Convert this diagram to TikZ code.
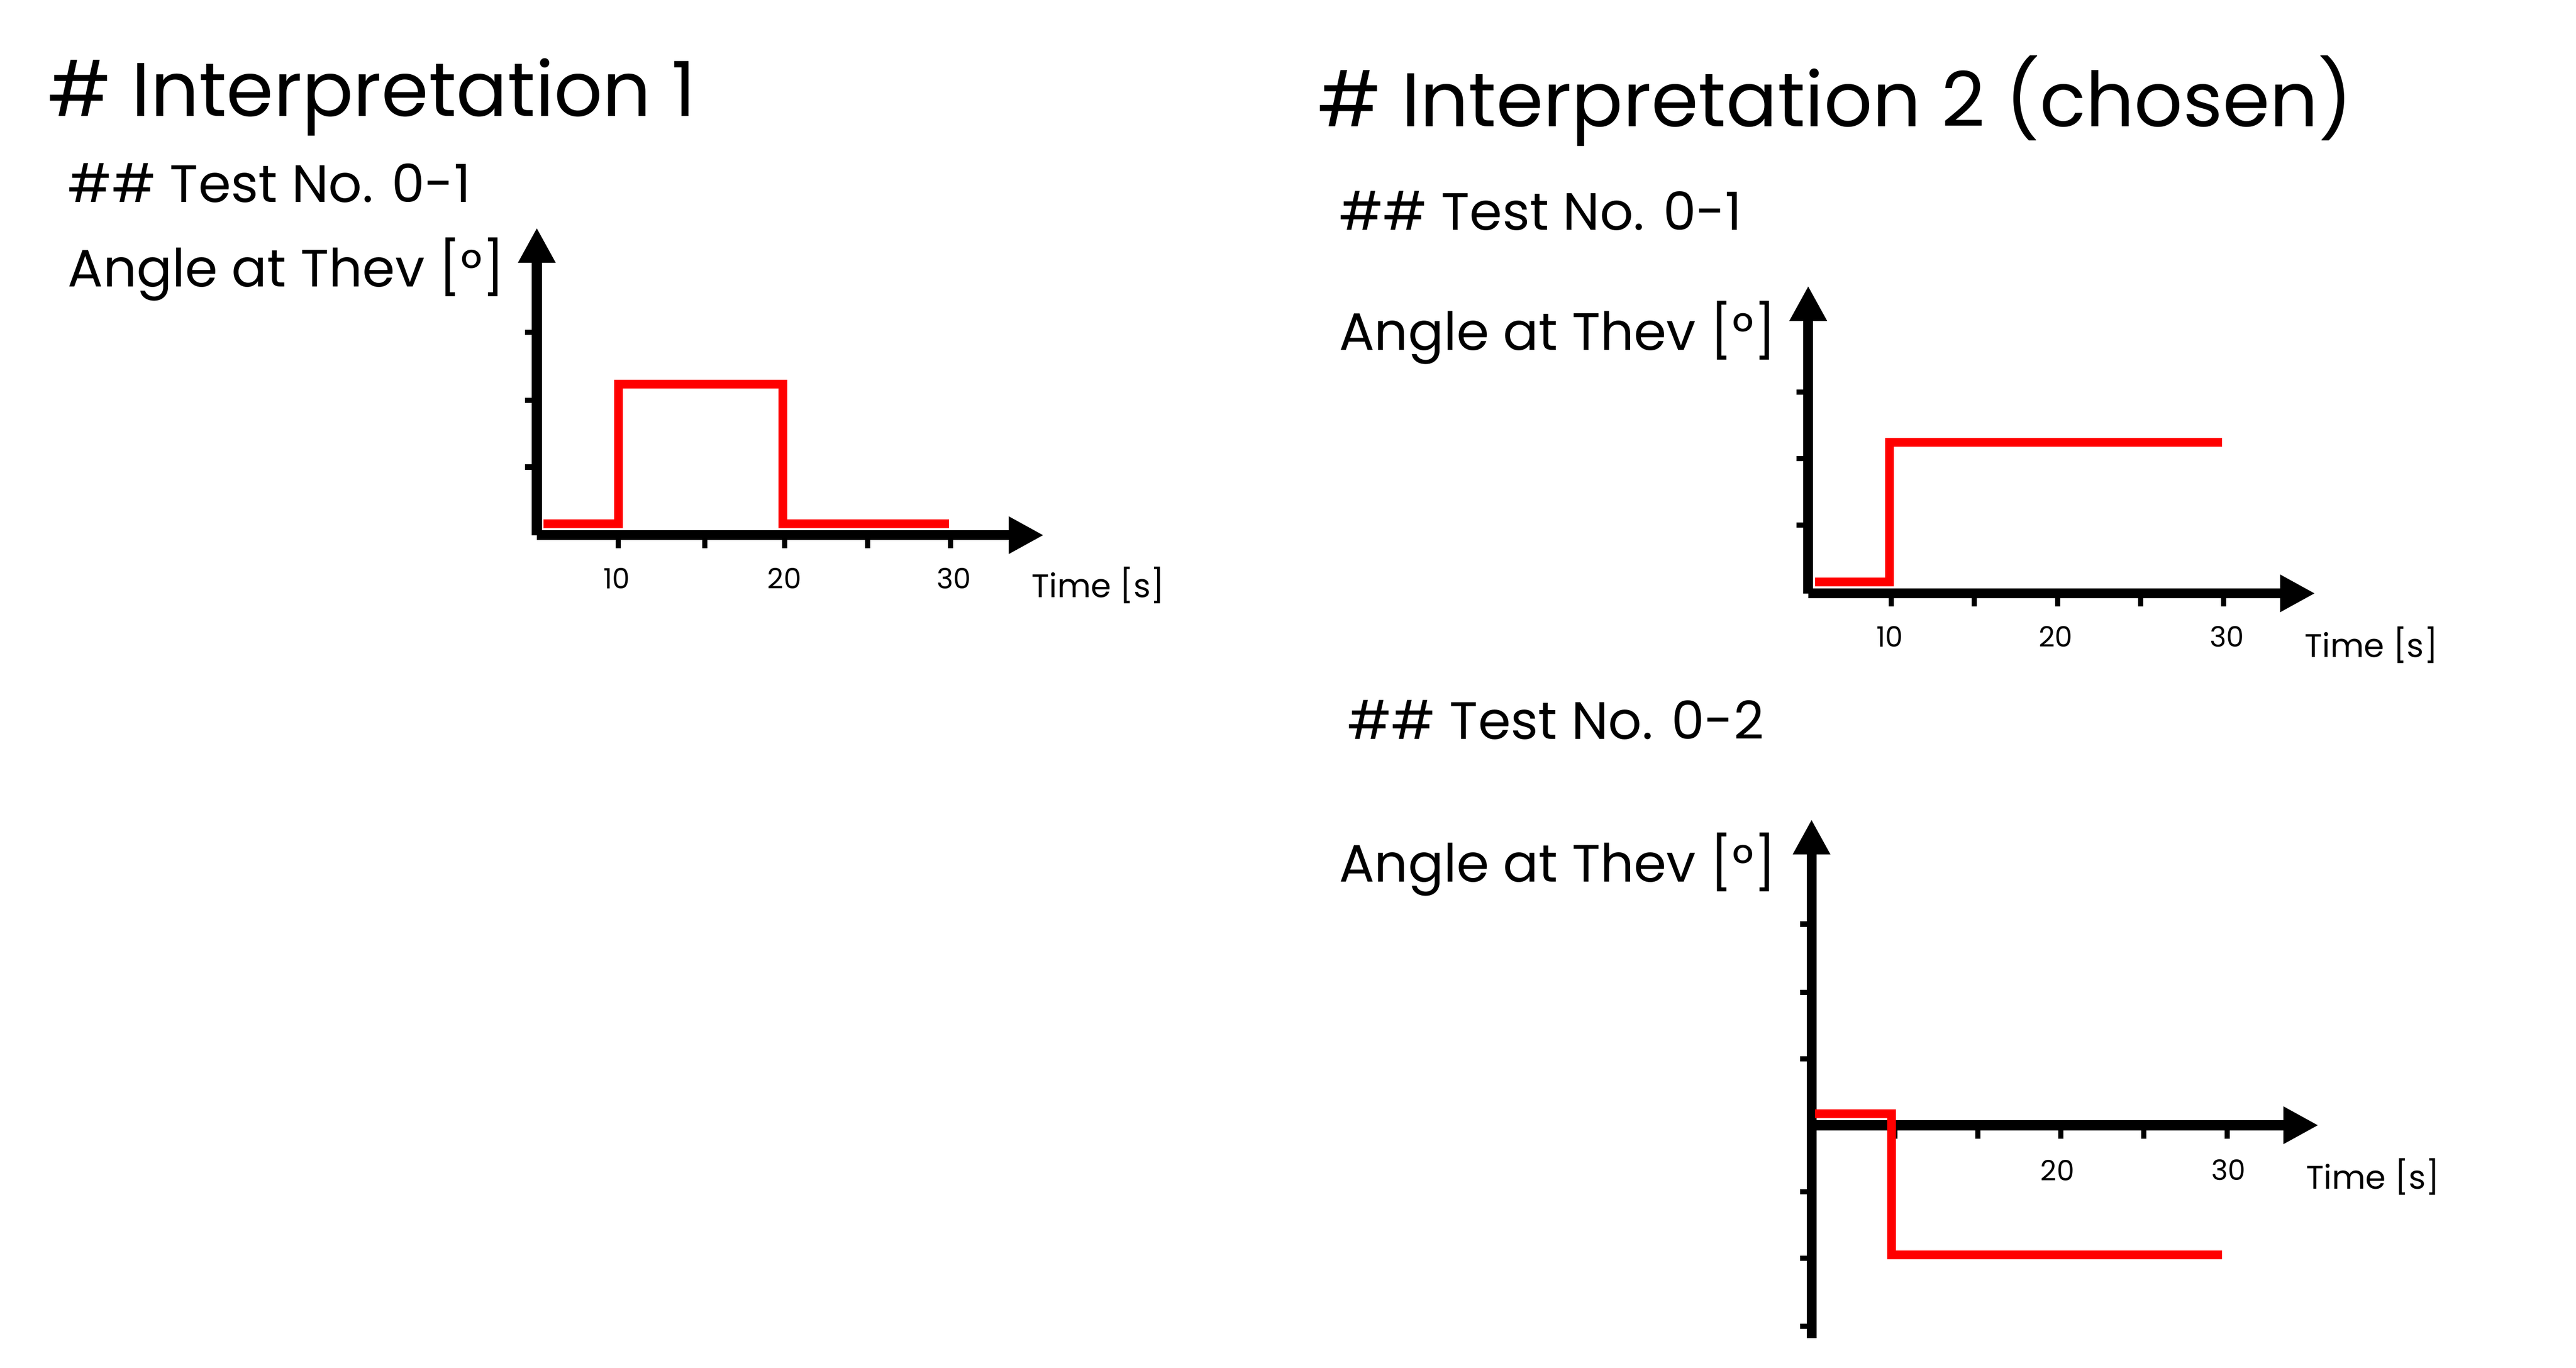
\documentclass[tikz,border=0pt]{standalone}
\usepackage{fontspec}
\setmainfont{Poppins}
\begin{document}
\begin{tikzpicture}[x=0.1mm,y=-0.1mm,
  ttl/.style={anchor=base west,inner sep=0,font=\fontsize{13}{15}\selectfont},
  sub/.style={anchor=west,inner sep=0,font=\fontsize{9}{11}\selectfont},
  tl/.style={anchor=center,inner sep=0,font=\fontsize{4.8}{6}\selectfont},
  tm/.style={anchor=west,inner sep=0,font=\fontsize{5.6}{7}\selectfont},
  ax/.style={line width=1.7pt,-{Triangle[length=6pt,width=6pt]}},
  tk/.style={line width=0.9pt},
  sig/.style={red,line width=1.5pt}]
\usetikzlibrary{arrows.meta}
\useasboundingbox (0,0) rectangle (1550,823);
% Interpretation 1
\node[ttl] (t1) at (28,70) {\# Interpretation 1};
\node[sub] (s1) at (40,110) {\#\# Test No. 0-1};
\node[sub] (a1) at (40,162) {Angle at Thev [°]};
\coordinate (o1) at (323,322);
\draw[ax] (o1) -- (323,137);
\draw[ax] (o1) -- (628,322);
\foreach \y in {200,241,281} \draw[tk] (316,\y) -- (323,\y);
\foreach \x in {372,424,472,522,572} \draw[tk] (\x,322) -- (\x,330);
\node[tl] (l1a) at (371,348) {10};
\node[tl] (l1b) at (472,348) {20};
\node[tl] (l1c) at (574,348) {30};
\node[tm] (m1) at (620,352) {Time [s]};
\draw[sig] (327,315) -- (372,315) -- (372,231) -- (471,231) -- (471,315) -- (571,315);
% Interpretation 2
\node[ttl] (t2) at (792,76) {\# Interpretation 2 (chosen)};
\node[sub] (s2) at (805,127) {\#\# Test No. 0-1};
\node[sub] (a2) at (805,200) {Angle at Thev [°]};
\coordinate (o2) at (1088,357);
\draw[ax] (o2) -- (1088,172);
\draw[ax] (o2) -- (1393,357);
\foreach \y in {236,276,316} \draw[tk] (1081,\y) -- (1088,\y);
\foreach \x in {1138,1188,1238,1288,1338} \draw[tk] (\x,357) -- (\x,365);
\node[tl] (l2a) at (1137,383) {10};
\node[tl] (l2b) at (1237,383) {20};
\node[tl] (l2c) at (1340,383) {30};
\node[tm] (m2) at (1386,388) {Time [s]};
\draw[sig] (1092,350) -- (1137,350) -- (1137,266) -- (1337,266);
% Test 0-2
\node[sub] (s3) at (810,433) {\#\# Test No. 0-2};
\node[sub] (a3) at (805,520) {Angle at Thev [°]};
\coordinate (o3) at (1090,677);
\draw[line width=1.7pt] (o3) -- (1090,805);
\draw[ax] (o3) -- (1090,493);
\draw[ax] (o3) -- (1395,677);
\foreach \y in {556,597,637,717,757,798} \draw[tk] (1083,\y) -- (1090,\y);
\foreach \x in {1140,1190,1240,1290,1340} \draw[tk] (\x,677) -- (\x,685);
\node[tl] (l3b) at (1238,704) {20};
\node[tl] (l3c) at (1341,704) {30};
\node[tm] (m3) at (1387,708) {Time [s]};
\draw[sig] (1092,670) -- (1138,670) -- (1138,755) -- (1337,755);
\end{tikzpicture}
\end{document}
